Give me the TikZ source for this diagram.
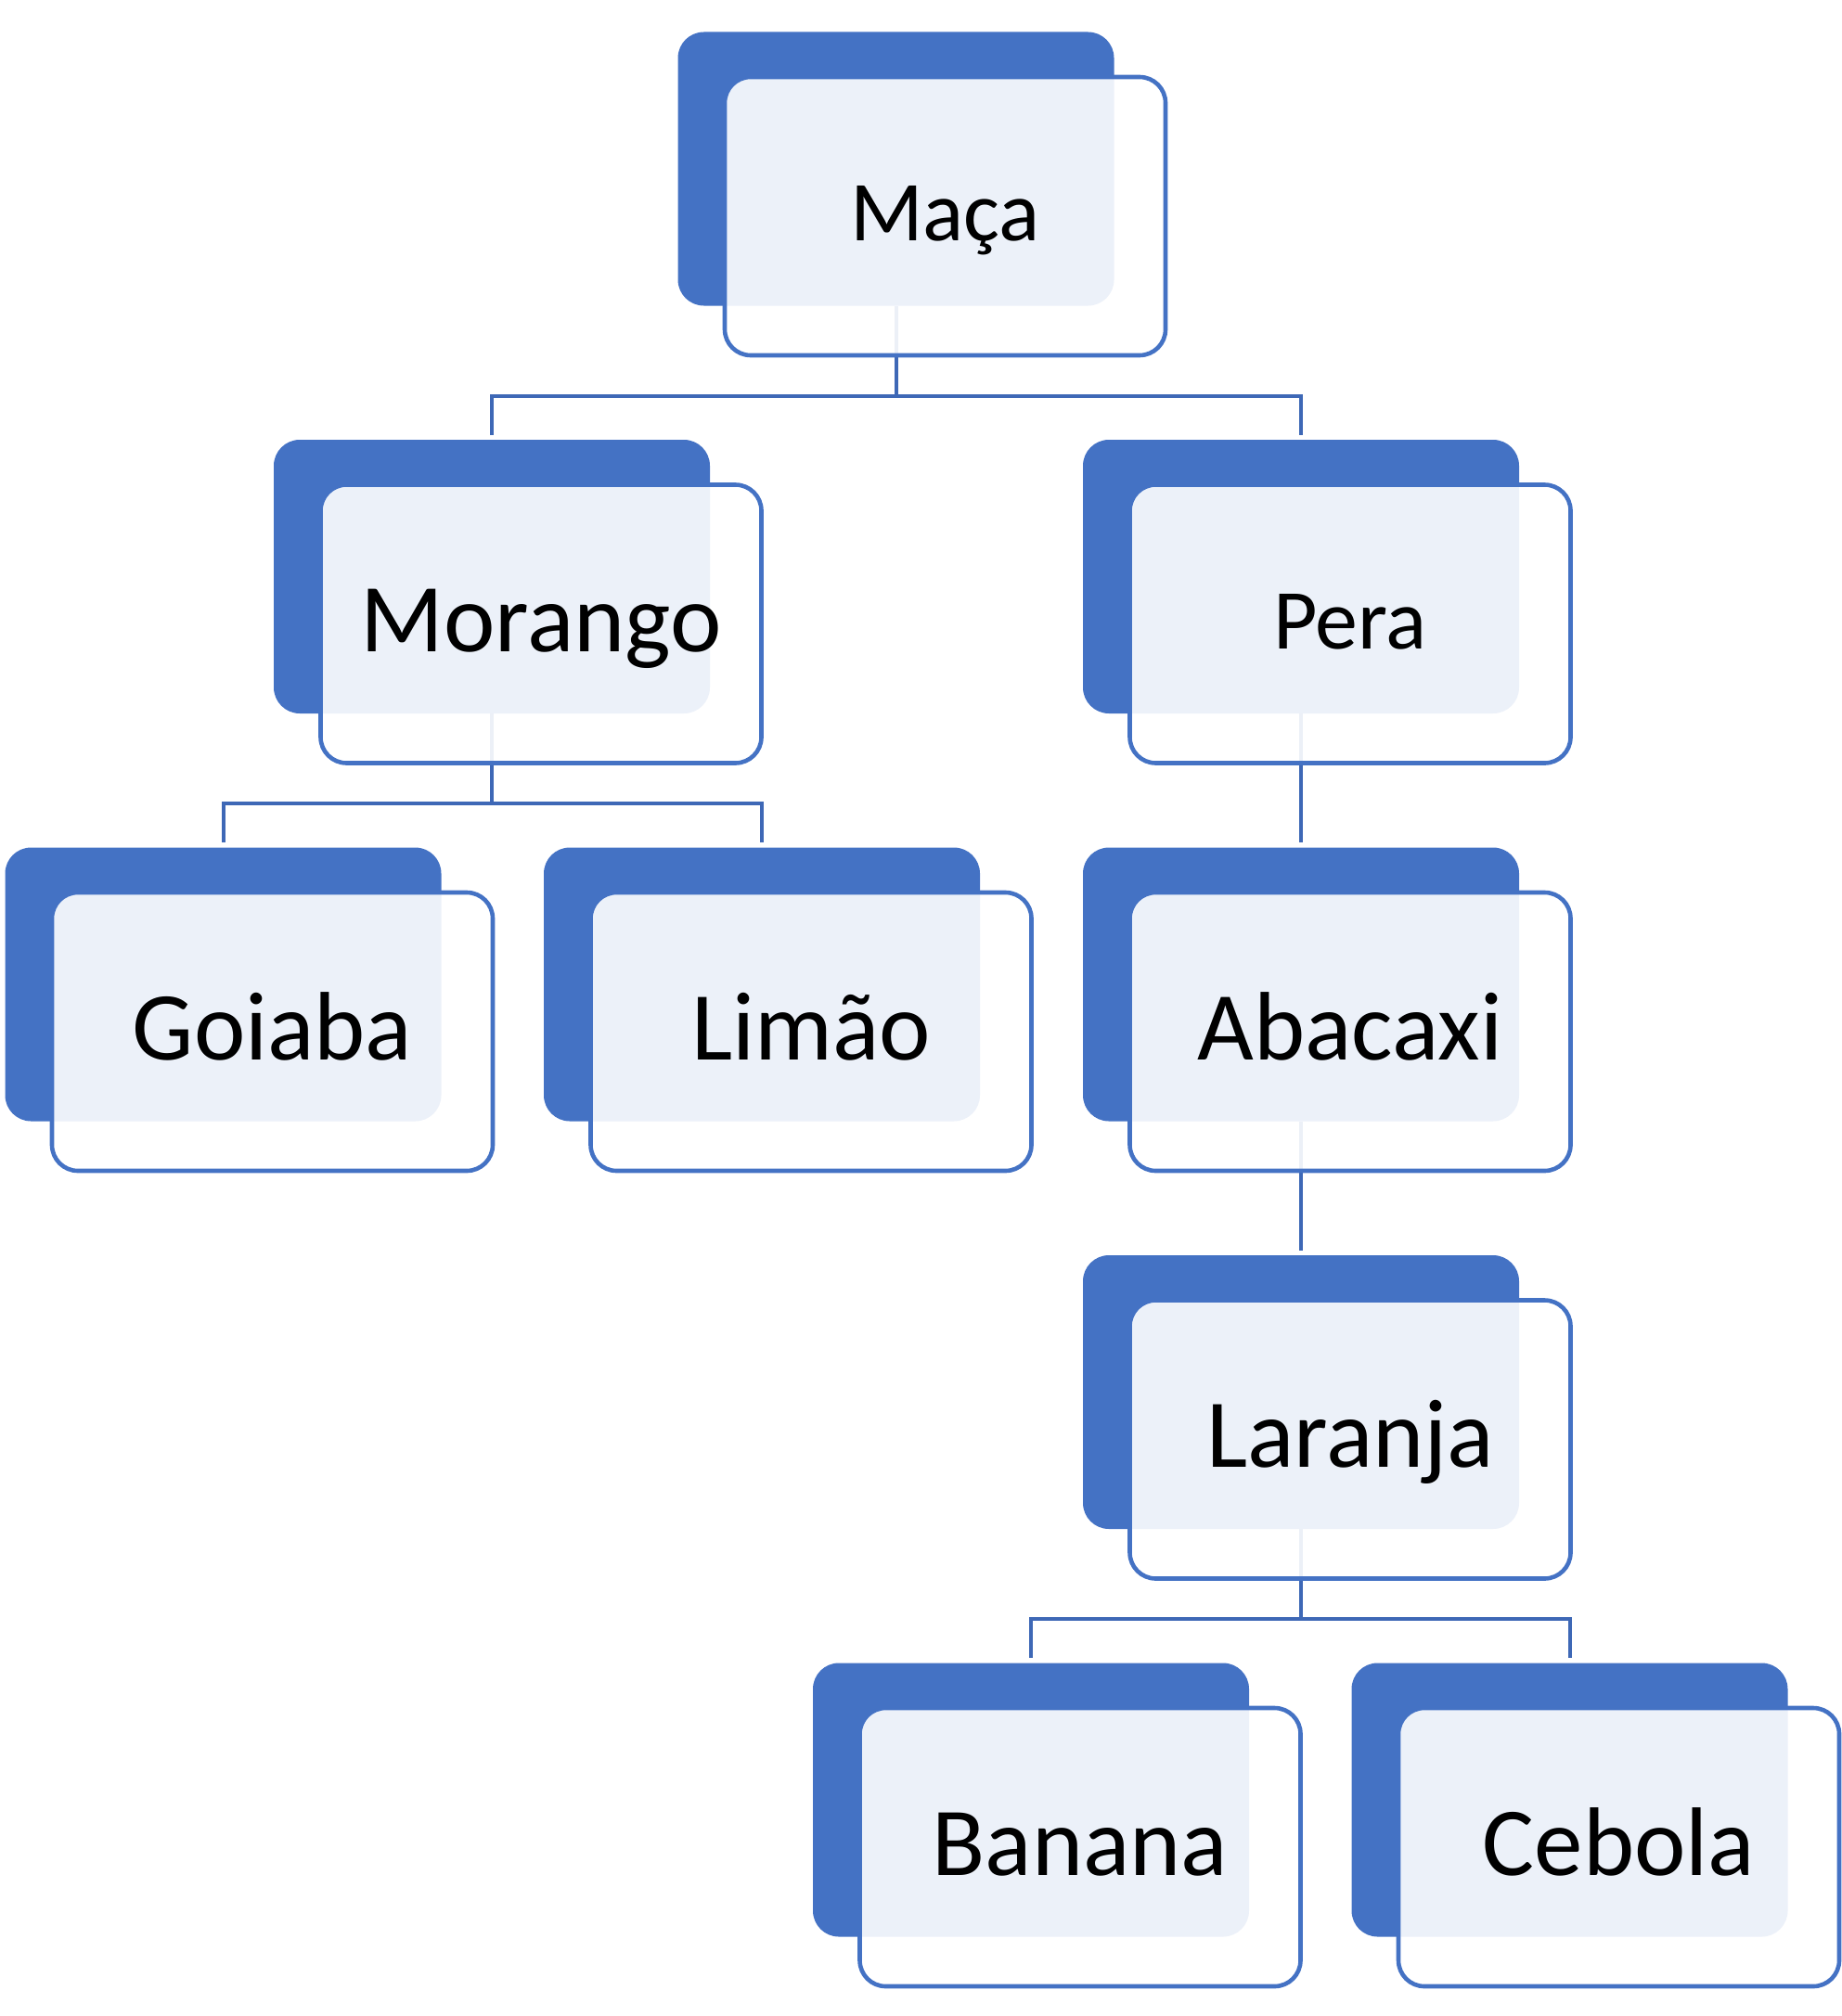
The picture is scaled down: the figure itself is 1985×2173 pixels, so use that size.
\documentclass[tikz,border=0pt]{standalone}
\usepackage{fontspec}
\setmainfont{Carlito}
\usetikzlibrary{positioning,calc}
\definecolor{accent}{HTML}{4472C4}
\definecolor{linkblue}{HTML}{3E68B6}

\begin{document}
\begin{tikzpicture}[
  x=0.5pt, y=-0.5pt,
  back/.style={fill=accent, rounded corners=14pt, minimum width=235pt, minimum height=147.5pt, inner sep=0pt},
  front/.style={draw=accent, line width=2.3pt, fill=white, fill opacity=0.9, text opacity=1, rounded corners=14pt,
    minimum width=237.5pt, minimum height=150pt, inner sep=0pt,
    font=\fontsize{52.5}{60}\selectfont, text height=40pt, text depth=10pt},
  bigtext/.style={},
  smalltext/.style={font=\fontsize{46}{54}\selectfont, text height=36pt, text depth=9.4pt},
  link/.style={draw=linkblue, line width=2pt, shorten >=2.5pt}
]
\useasboundingbox (0,0) rectangle (1985,2173);

\node[back] (maca) at (965.5,182) {};
\node[back] (morango) at (530,621.5) {};
\node[back] (pera) at (1402,621.5) {};
\node[back] (goiaba) at (240.5,1061) {};
\node[back] (limao) at (821,1061) {};
\node[back] (abacaxi) at (1402,1061) {};
\node[back] (laranja) at (1402,1500.5) {};
\node[back] (banana) at (1111,1940) {};
\node[back] (cebola) at (1691.5,1940) {};

\foreach \p/\c in {maca/morango, maca/pera, morango/goiaba, morango/limao, laranja/banana, laranja/cebola}
  \draw[link] (\p.south) -- ++(0,97) -| (\c.north);
\foreach \p/\c in {pera/abacaxi, abacaxi/laranja}
  \draw[link] (\p.south) -- (\c.north);

\foreach \n/\lbl/\s in {maca/Maça/smalltext, morango/Morango/bigtext, pera/Pera/smalltext,
    goiaba/Goiaba/bigtext, limao/Limão/bigtext, abacaxi/Abacaxi/bigtext,
    laranja/Laranja/bigtext, banana/Banana/bigtext, cebola/Cebola/bigtext}
  \node[front,\s] (\n-t) at ([shift={(26.5pt,-25.5pt)}]\n.center) {\lbl};
\end{tikzpicture}
\end{document}
